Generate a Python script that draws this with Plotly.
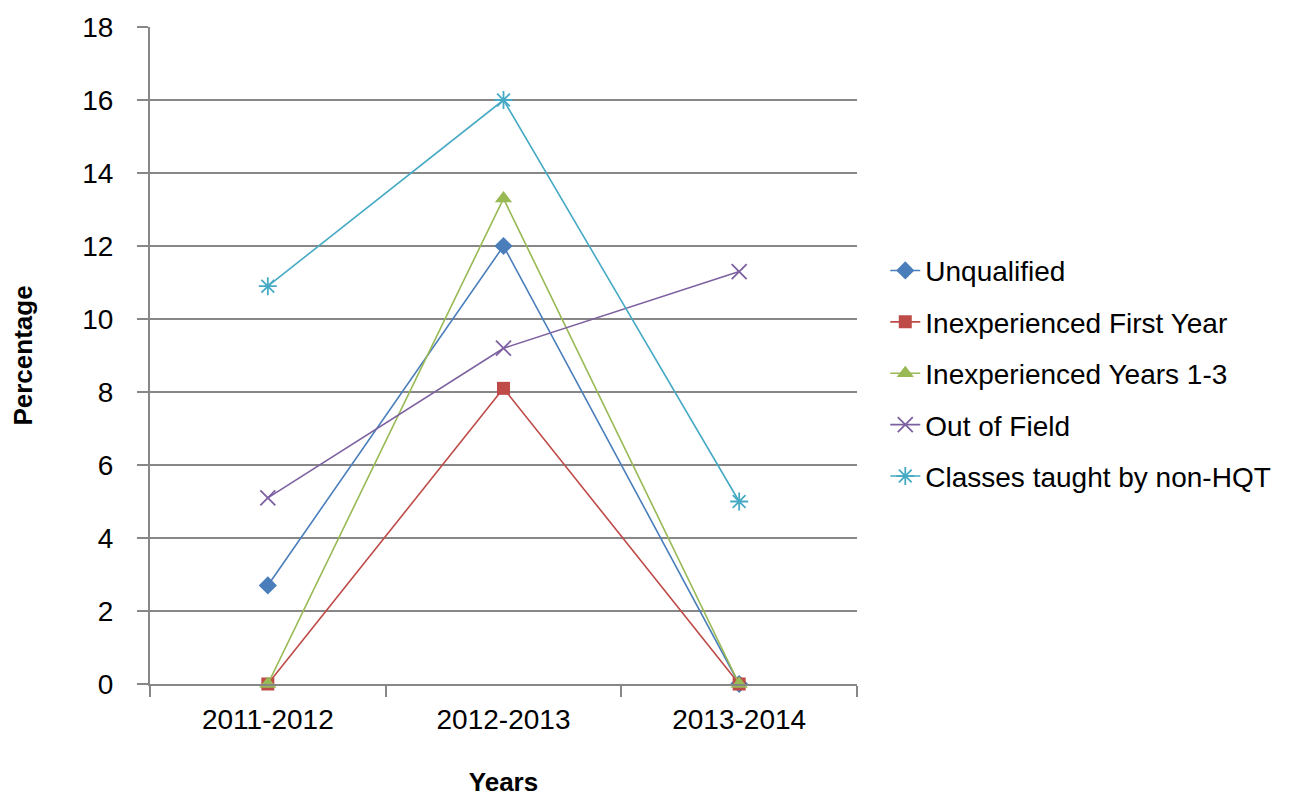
import plotly.graph_objects as go

years = ["2011-2012", "2012-2013", "2013-2014"]
unqualified = [2.7, 12.0, 0.0]
inexp_first_year = [0.0, 8.1, 0.0]
inexp_years_1_3 = [0.0, 13.3, 0.0]
out_of_field = [5.1, 9.2, 11.3]
non_hqt = [10.9, 16.0, 5.0]

series = [
    ("Unqualified", unqualified, "#4A7EBB", "diamond", 14),
    ("Inexperienced First Year", inexp_first_year, "#BE4B48", "square", 13),
    ("Inexperienced Years 1-3", inexp_years_1_3, "#98B954", "triangle-up", 15),
    ("Out of Field", out_of_field, "#7D60A0", "x-thin-open", 15),
    ("Classes taught by non-HQT", non_hqt, "#46AAC5", "asterisk-open", 15),
]

FONT = "Liberation Sans"
fig = go.Figure()
for i, (name, vals, col, sym, sz) in enumerate(series):
    open_sym = sym.endswith("open")
    fig.add_trace(go.Scatter(
        x=years, y=vals, name=name, mode="lines+markers",
        legendgroup=f"g{i}", cliponaxis=False,
        line=dict(color=col, width=1.6),
        marker=dict(symbol=sym, size=sz, color=col,
                    line=dict(color=col, width=1.8 if open_sym else 0)),
    ))

grid = "#878787"
fig.update_layout(
    width=1294, height=797,
    margin=dict(l=150, r=437, t=27, b=113, autoexpand=False),
    paper_bgcolor="white", plot_bgcolor="white",
    font=dict(family=FONT, size=28, color="#000000"),
    legend=dict(x=1.04, xanchor="left", y=0.473, yanchor="middle",
                font=dict(family=FONT, size=28, color="#000000"),
                traceorder="grouped", tracegroupgap=12,
                itemsizing="trace",
                bgcolor="rgba(0,0,0,0)"),
    xaxis=dict(
        type="category", range=[-0.5, 2.5], tickson="boundaries",
        automargin=False,
        showline=True, linecolor=grid, linewidth=2,
        ticks="outside", ticklen=11, tickwidth=2, tickcolor=grid,
        showgrid=False, zeroline=False,
        ticklabelstandoff=9,
        tickfont=dict(family=FONT, size=28, color="#000000"),
        title=dict(text="<b>Years</b>", standoff=40,
                   font=dict(family=FONT, size=26, color="#000000")),
    ),
    yaxis=dict(
        range=[0, 18], dtick=2, tick0=0, automargin=False,
        showline=True, linecolor=grid, linewidth=2,
        ticks="outside", ticklen=11, tickwidth=2, tickcolor=grid,
        showgrid=True, gridcolor=grid, gridwidth=2,
        zeroline=False, ticklabelstandoff=18,
        tickfont=dict(family=FONT, size=28, color="#000000"),
        title=dict(text="<b>Percentage</b>", standoff=42,
                   font=dict(family=FONT, size=26, color="#000000")),
    ),
)

fig.write_html("out.html")
